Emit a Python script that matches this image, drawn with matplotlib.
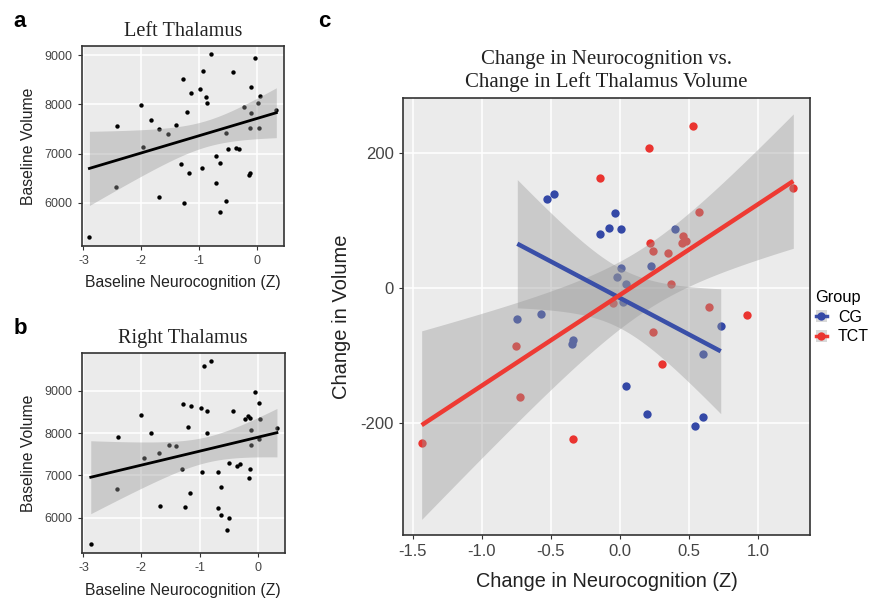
import numpy as np
import matplotlib
matplotlib.use("Agg")
import matplotlib.pyplot as plt
from matplotlib.patches import Patch
from matplotlib.lines import Line2D

plt.rcParams['font.family'] = ['Liberation Sans', 'DejaVu Sans']
plt.rcParams['axes.unicode_minus'] = False

# panel a: baseline neurocognition vs left thalamus volume
left_x = [-2.897, -2.438, -2.415, -2.013, -1.967, -1.835, -1.698, -1.692, -1.537, -1.405,
          -1.319, -1.290, -1.262, -1.210, -1.176, -1.147, -0.992, -0.963, -0.935, -0.894,
          -0.877, -0.808, -0.705, -0.705, -0.637, -0.648, -0.544, -0.533, -0.506, -0.419,
          -0.361, -0.316, -0.224, -0.144, -0.120, -0.103, -0.120, -0.110, -0.046, 0.017,
          0.028, 0.052, 0.327]
left_vol = [5310, 6326, 7558, 7991, 7138, 7680, 7490, 6122, 7395, 7578,
            6786, 8519, 5987, 7849, 6596, 8235, 8316, 6698, 8682, 8140,
            8018, 9020, 6951, 6398, 6815, 5811, 6041, 7411, 7093, 8661,
            7120, 7087, 7951, 6566, 6613, 7830, 7513, 8357, 8933, 8020,
            7513, 8174, 7885]

# panel b: baseline neurocognition vs right thalamus volume
right_x = [-2.874, -2.397, -2.426, -2.000, -1.960, -1.830, -1.690, -1.680, -1.530, -1.400,
           -1.310, -1.280, -1.250, -1.200, -1.160, -1.140, -0.980, -0.950, -0.920, -0.880,
           -0.870, -0.800, -0.690, -0.680, -0.630, -0.630, -0.530, -0.500, -0.500, -0.416,
           -0.360, -0.300, -0.211, -0.165, -0.130, -0.150, -0.130, -0.108, -0.108, -0.039,
           0.017, 0.029, 0.047, 0.333]
right_vol = [5378, 7898, 6669, 8417, 7402, 8008, 7535, 6283, 7717, 7701,
             7142, 8685, 6260, 8134, 6575, 8638, 8583, 7087, 9591, 8528,
             8008, 9701, 7087, 6220, 6717, 6063, 5709, 5984, 7299, 8517,
             7228, 7268, 8343, 8398, 8367, 6945, 7142, 7707, 8081, 8976,
             8714, 7867, 8326, 8129]

# panel c: change scores by group
cg_dx = [-0.531, -0.478, -0.036, -0.145, -0.077, 0.007, 0.399, 0.007, -0.019, 0.041,
         0.019, 0.222, -0.744, -0.572, -0.338, -0.345, 0.730, 0.599, 0.043, 0.198,
         0.599, 0.543]
cg_dvol = [131, 139, 110, 80, 88, 87, 87, 29, 16, 5,
           -21, 32, -46, -39, -77, -83, -57, -98, -146, -187,
           -191, -205]
tct_dx = [0.531, 0.212, -0.145, 0.572, 0.217, 0.237, 0.350, 0.459, 0.447, 0.478,
          0.367, 0.647, 0.918, 0.241, 1.256, -0.048, 0.302, -0.343, -0.754, -0.725,
          -1.437]
tct_dvol = [239, 207, 162, 112, 66, 55, 51, 76, 67, 69,
            6, -29, -40, -66, 147, -22, -113, -224, -86, -161,
            -230]

groups = ['CG', 'TCT']
group_colors = {'CG': '#3448A6', 'TCT': '#EA3430'}
line_colors = {'CG': '#3A4FA8', 'TCT': '#EE3A33'}

BG = '#EBEBEB'
BAND = '#999999'
FRAME = '#333333'
TICKTXT = '#444444'


def t975(df):
    # Cornish-Fisher expansion of the t quantile
    z = 1.959964
    return (z + (z**3 + z) / (4 * df)
            + (5 * z**5 + 16 * z**3 + 3 * z) / (96 * df**2)
            + (3 * z**7 + 19 * z**5 + 17 * z**3 - 15 * z) / (384 * df**3))


def fit_band(x, y):
    x = np.asarray(x, float)
    y = np.asarray(y, float)
    slope, icpt = np.polyfit(x, y, 1)
    xs = np.linspace(x.min(), x.max(), 80)
    n = len(x)
    s = np.sqrt(np.sum((y - (slope * x + icpt))**2) / (n - 2))
    se = s * np.sqrt(1 / n + (xs - x.mean())**2 / np.sum((x - x.mean())**2))
    fit = slope * xs + icpt
    h = t975(n - 2) * se
    return xs, fit, fit - h, fit + h


def style(ax, tick_size):
    ax.set_facecolor(BG)
    ax.grid(True, color='white', linewidth=1.1)
    ax.set_axisbelow(True)
    for sp in ax.spines.values():
        sp.set_color(FRAME)
        sp.set_linewidth(1.2)
    ax.tick_params(length=3, width=0.8, color=FRAME, labelcolor=TICKTXT,
                   labelsize=tick_size, pad=3.5)


fig = plt.figure(figsize=(8.72, 6.03), dpi=100)

# panels a and b
small = [
    ('a', 'Left Thalamus', left_x, left_vol, [0.0937, 0.592, 0.232, 0.3317], (-3.03, 0.46), (5120, 9185)),
    ('b', 'Right Thalamus', right_x, right_vol, [0.0937, 0.0824, 0.233, 0.333], (-3.03, 0.47), (5157, 9906)),
]
for letter, title, xv, yv, rect, xl, yl in small:
    ax = fig.add_axes(rect)
    style(ax, 9)
    ax.scatter(xv, yv, s=10, color='black', zorder=2, linewidths=0)
    xs, fit, lo, hi = fit_band(xv, yv)
    ax.fill_between(xs, lo, hi, color=BAND, alpha=0.4, linewidth=0, zorder=3)
    ax.plot(xs, fit, color='black', linewidth=2, zorder=4)
    ax.set_xlim(*xl)
    ax.set_ylim(*yl)
    ax.set_xticks([-3, -2, -1, 0])
    ax.set_yticks([6000, 7000, 8000, 9000])
    ax.set_xlabel('Baseline Neurocognition (Z)', fontsize=11.3, color='#222222', labelpad=6)
    ax.set_ylabel('Baseline Volume', fontsize=11.3, color='#222222', labelpad=6)
    ax.set_title(title, fontsize=14.6, family=['Liberation Serif', 'DejaVu Serif'],
                 color='#222222', pad=7)
    fig.text(0.015, rect[1] + rect[3] + 0.04, letter, fontsize=16, fontweight='bold',
             ha='left', va='center')

# panel c
axc = fig.add_axes([0.4622, 0.1128, 0.4667, 0.7247])
style(axc, 12)
axc.scatter(cg_dx, cg_dvol, s=36, color=group_colors['CG'], linewidths=0, zorder=2)
axc.scatter(tct_dx, tct_dvol, s=36, color=group_colors['TCT'], linewidths=0, zorder=2)
for g, xv, yv in [('CG', cg_dx, cg_dvol), ('TCT', tct_dx, tct_dvol)]:
    xs, fit, lo, hi = fit_band(xv, yv)
    axc.fill_between(xs, lo, hi, color=BAND, alpha=0.4, linewidth=0, zorder=3)
    axc.plot(xs, fit, color=line_colors[g], linewidth=3.2, zorder=4, solid_capstyle='butt')
axc.set_xlim(-1.572, 1.377)
axc.set_ylim(-366, 281)
axc.set_xticks([-1.5, -1.0, -0.5, 0.0, 0.5, 1.0])
axc.set_xticklabels(['-1.5', '-1.0', '-0.5', '0.0', '0.5', '1.0'])
axc.set_yticks([-200, 0, 200])
axc.set_xlabel('Change in Neurocognition (Z)', fontsize=14.3, color='#222222', labelpad=9)
axc.set_ylabel('Change in Volume', fontsize=14.5, color='#222222', labelpad=7)
axc.set_title('Change in Neurocognition vs.\nChange in Left Thalamus Volume', fontsize=15,
              family=['Liberation Serif', 'DejaVu Serif'], color='#222222', pad=8,
              linespacing=1.22)
fig.text(0.365, 0.965, 'c', fontsize=16, fontweight='bold', ha='left', va='center')

handles = [(Patch(facecolor='#D9D9D9', edgecolor='none'),
            Line2D([], [], color=line_colors[g], marker='o', markersize=6,
                   markerfacecolor=group_colors[g], markeredgewidth=0, linewidth=2.5))
           for g in groups]
leg = fig.legend(handles, groups, title='Group', loc='upper left',
                 bbox_to_anchor=(0.928, 0.53), frameon=False, fontsize=11.5,
                 title_fontsize=11.8, handlelength=0.7, handleheight=0.8,
                 handletextpad=0.7, labelspacing=0.3, borderaxespad=0,
                 alignment='left')

fig.savefig('out.png', dpi=100)
